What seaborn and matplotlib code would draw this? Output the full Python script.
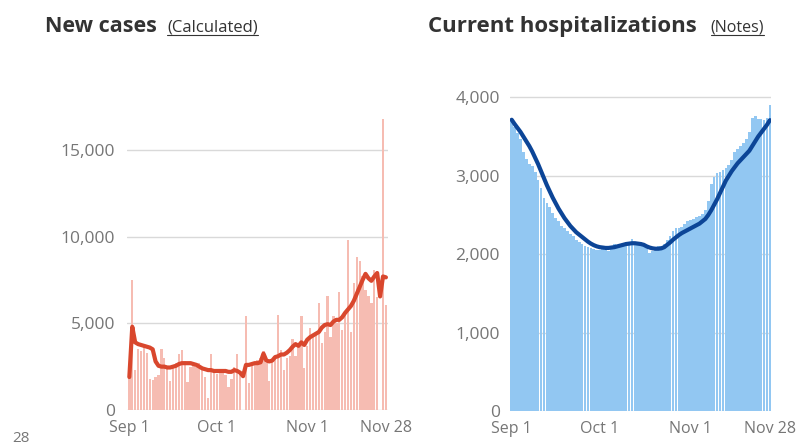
import pandas as pd
import matplotlib
matplotlib.use("Agg")
import matplotlib.pyplot as plt
import seaborn as sns
from matplotlib.ticker import FuncFormatter
from matplotlib.lines import Line2D

# -----------------------------
# data (one value per day, Sep 1 .. Nov 28)

days = list(range(89))

new_cases = [1900, 7500, 2300, 3500, 3400, 3800, 3300, 1800, 1750, 1900,
             2000, 3500, 3000, 2400, 1700, 2500, 2700, 3200, 3450, 2800,
             1600, 2500, 2600, 2500, 2700, 2400, 1900, 700, 3200, 2300,
             2100, 2200, 2300, 2000, 1350, 1800, 2500, 3200, 2100, 0,
             5400, 1550, 2600, 2700, 2900, 3000, 3400, 2700, 1700, 2900,
             3100, 5500, 3450, 2300, 3000, 3100, 4100, 3100, 3800, 5400,
             2400, 3700, 4700, 4200, 4300, 6150, 3850, 4500, 6600, 4200,
             5400, 5000, 6800, 4600, 5700, 9800, 4500, 7300, 8800, 8600,
             7700, 6900, 6600, 6150, 8100, 6500, 0, 16800, 6050]

cases_avg = [1900, 4800, 3900, 3800, 3750, 3700, 3650, 3600, 3500, 2800,
             2550, 2500, 2500, 2450, 2450, 2500, 2550, 2650, 2700, 2700,
             2700, 2700, 2650, 2600, 2500, 2400, 2350, 2300, 2300, 2250,
             2250, 2250, 2250, 2250, 2200, 2200, 2300, 2250, 2150, 1950,
             2600, 2600, 2650, 2700, 2700, 2750, 3250, 2850, 2800, 2850,
             3050, 3100, 3200, 3200, 3300, 3450, 3650, 3800, 3700, 3900,
             3750, 4050, 4200, 4300, 4400, 4500, 4750, 4900, 4950, 4900,
             5100, 5200, 5200, 5350, 5600, 5800, 6000, 6300, 6700, 7100,
             7500, 7850, 7600, 7450, 7700, 7900, 6550, 7700, 7650]

hospital = [3700, 3620, 3550, 3470, 3300, 3220, 3150, 3120, 3050, 2950,
            2850, 2720, 2650, 2600, 2530, 2460, 2420, 2360, 2330, 2290,
            2260, 2230, 2180, 2150, 2130, 2110, 2090, 2080, 2070, 2060,
            2060, 2070, 2050, 2040, 2080, 2130, 2110, 2120, 2140, 2150,
            2160, 2190, 2150, 2140, 2150, 2110, 2080, 2010, 2040, 2080,
            2100, 2110, 2130, 2180, 2230, 2290, 2330, 2340, 2350, 2380,
            2420, 2440, 2450, 2470, 2490, 2510, 2560, 2680, 2900, 2990,
            3040, 3050, 3070, 3100, 3140, 3200, 3300, 3340, 3380, 3420,
            3470, 3560, 3740, 3760, 3720, 3730, 3710, 3740, 3900]

hospital_avg = [3715, 3660, 3610, 3560, 3500, 3440, 3380, 3310, 3230, 3150,
                3060, 2970, 2880, 2800, 2720, 2650, 2580, 2520, 2460, 2410,
                2360, 2320, 2280, 2250, 2220, 2190, 2160, 2135, 2115, 2100,
                2090, 2085, 2080, 2080, 2085, 2090, 2100, 2110, 2120, 2130,
                2135, 2140, 2140, 2135, 2130, 2120, 2100, 2085, 2075, 2070,
                2070, 2075, 2090, 2120, 2150, 2185, 2215, 2245, 2270, 2290,
                2310, 2330, 2350, 2370, 2390, 2420, 2450, 2500, 2560, 2630,
                2700, 2780, 2860, 2940, 3000, 3060, 3110, 3160, 3200, 3240,
                3280, 3320, 3380, 3440, 3500, 3550, 3600, 3650, 3710]

tick_days = [0, 30, 61, 88]
tick_labels = ["Sep 1", "Oct 1", "Nov 1", "Nov 28"]

df = pd.DataFrame({"day": days, "cases": new_cases, "cases_avg": cases_avg,
                   "hosp": hospital, "hosp_avg": hospital_avg})

# -----------------------------

sns.set_style("white")
plt.rcParams["font.family"] = ["Open Sans", "DejaVu Sans"]

GREY = "#767676"
fig = plt.figure(figsize=(7.98, 4.45), dpi=100)

ax1 = fig.add_axes([0.1588, 0.0787, 0.327, 0.6818])
ax2 = fig.add_axes([0.639, 0.0764, 0.3276, 0.7223])


def style_axis(ax, ylim, yticks, ypad):
    ax.set_ylim(*ylim)
    ax.set_yticks(yticks)
    ax.yaxis.set_major_formatter(FuncFormatter(lambda v, p: f"{int(v):,}"))
    ax.set_xticks(tick_days)
    ax.set_xticklabels(tick_labels)
    ax.set_xlabel("")
    ax.set_ylabel("")
    ax.set_axisbelow(True)
    ax.grid(axis="y", color="#d9d9d9", linewidth=1)
    for s in ax.spines.values():
        s.set_visible(False)
    ax.tick_params(axis="x", colors="#b0b0b0", length=5, width=1, pad=2,
                   labelsize=11.5, labelcolor=GREY)
    ax.tick_params(axis="y", length=0, pad=ypad, labelsize=12.5, labelcolor=GREY)


# New cases (categorical positions 0..88 are the day numbers)
sns.barplot(data=df, x="day", y="cases", color="#f6bcb2", saturation=1,
            width=0.8, errorbar=None, linewidth=0, edgecolor="none", ax=ax1)
sns.lineplot(data=df, x="day", y="cases_avg", color="#d9472d", linewidth=3, ax=ax1)
ax1.set_xlim(-0.9, 88.6)
style_axis(ax1, (0, 17500), [0, 5000, 10000, 15000], 8.4)

# Current hospitalizations
sns.barplot(data=df, x="day", y="hosp", color="#92c7f2", saturation=1,
            width=0.93, errorbar=None, linewidth=0, edgecolor="none", ax=ax2)
sns.lineplot(data=df, x="day", y="hosp_avg", color="#0c4597", linewidth=3, ax=ax2)
ax2.set_xlim(-0.6, 88.5)
style_axis(ax2, (0, 4100), [0, 1000, 2000, 3000, 4000], 7.2)

# -----------------------------
# titles with underlined links

def title_with_link(x, y, title, link, tsize, lsize, gap):
    t = fig.text(x, y, title, fontsize=tsize, fontweight="bold", color="#333333",
                 ha="left", va="baseline")
    fig.canvas.draw()
    bb = t.get_window_extent()
    lx = (bb.x1 + gap) / fig.bbox.width
    l = fig.text(lx, y, link, fontsize=lsize, color="#333333", ha="left", va="baseline")
    fig.canvas.draw()
    lb = l.get_window_extent()
    uy = y - 3 / fig.bbox.height
    fig.add_artist(Line2D([lb.x0 / fig.bbox.width, lb.x1 / fig.bbox.width], [uy, uy],
                          color="#333333", linewidth=0.8, transform=fig.transFigure))


title_with_link(45 / 798, 1 - 32 / 445, "New cases", "(Calculated)", 15.5, 12, 10)
title_with_link(428 / 798, 1 - 32 / 445, "Current hospitalizations", "(Notes)", 16, 11.5, 14)

fig.text(12 / 798, 1 - 442 / 445, "28", fontsize=11, color=GREY, ha="left", va="baseline")

fig.savefig("out.png", dpi=100)
